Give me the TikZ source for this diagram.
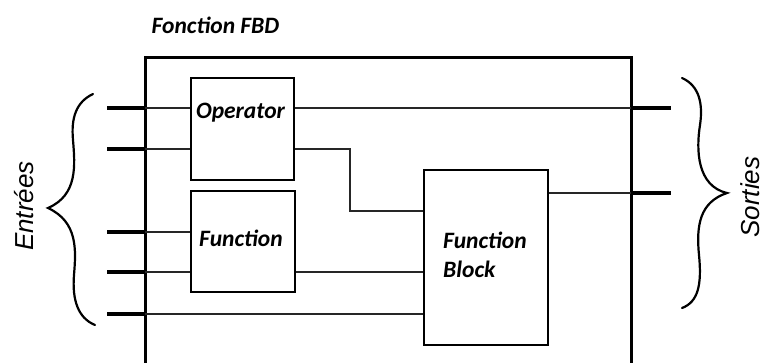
\documentclass[tikz,border=0pt]{standalone}
\usepackage{fontspec}
\newfontfamily\lblfont{Carlito}
\newfontfamily\sidefont{Liberation Sans}
\begin{document}
\begin{tikzpicture}[x=1pt,y=-1pt,
  boxstyle/.style={draw=black,line width=1.8pt,minimum width=#1,inner sep=0pt},
  lbl/.style={font=\lblfont\bfseries\itshape\fontsize{23.5}{26}\selectfont,inner sep=0pt},
  side/.style={font=\sidefont\itshape\fontsize{26}{30}\selectfont,inner sep=0pt,rotate=90},
  wire/.style={draw=black!85,line width=1.6pt},
  stub/.style={draw=black,line width=3.6pt},
  frame/.style={draw=black,line width=3pt},
  bracestyle/.style={draw=black,line width=2.2pt,line cap=round}]
\useasboundingbox (0,0) rectangle (765,363);
\clip (0,0) rectangle (765,363);

% title
\node[lbl] (title) at (215.5,25) {Fonction FBD};

% frame (open at the bottom)
\coordinate (fbl) at (145,370);
\coordinate (ftl) at (145,58);
\coordinate (ftr) at (631,58);
\coordinate (fbr) at (631,370);
\draw[frame] (fbl) -- (ftl) -- (ftr) -- (fbr);

% boxes
\node[boxstyle=103pt,minimum height=102pt] (op) at (242.5,129) {};
\node[boxstyle=104pt,minimum height=101pt] (fn) at (243,241.5) {};
\node[boxstyle=124pt,minimum height=175pt] (fb) at (486,257.5) {};

\node[lbl] (optext) at (240.5,113) {Operator};
\node[lbl] (fntext) at (241,238) {Function};
\node[lbl,align=left,anchor=north west,font=\lblfont\bfseries\itshape\fontsize{23.5}{29}\selectfont] (fbtext) at (443,232) {Function\\Block};

% inputs
\coordinate (i1) at (107,108);
\coordinate (i2) at (107,149);
\coordinate (i3) at (107,232);
\coordinate (i4) at (107,272);
\coordinate (i5) at (107,314);
\coordinate (o1) at (671,108);
\coordinate (o2) at (671,193);
\coordinate (bend1) at (350,149);
\coordinate (bend2) at (350,211);

% wires
\draw[wire] (i1) -- (i1 -| op.west);
\draw[wire] (i2) -- (i2 -| op.west);
\draw[wire] (i3) -- (i3 -| fn.west);
\draw[wire] (i4) -- (i4 -| fn.west);
\draw[wire] (i5) -- (i5 -| fb.west);
\draw[wire] (o1 -| op.east) -- (o1);
\draw[wire] (bend1 -| op.east) -- (bend1) -- (bend2) -- (bend2 -| fb.west);
\draw[wire] (i4 -| fn.east) -- (i4 -| fb.west);
\draw[wire] (o2 -| fb.east) -- (o2);

% thick stubs
\foreach \c in {i1,i2,i3,i4,i5}{
  \draw[stub] (\c) -- (\c -| ftl);
}
\draw[stub] (o1 -| ftr) -- (o1);
\draw[stub] (o2 -| ftr) -- (o2);

% braces
\draw[bracestyle] (93,94) .. controls (76,102) and (71,118) .. (73,140)
  .. controls (75,165) and (78,195) .. (48,208)
  .. controls (78,222) and (76,250) .. (74,275)
  .. controls (72,300) and (78,318) .. (95,325);
\draw[bracestyle] (682,78) .. controls (700,86) and (703,105) .. (700,125)
  .. controls (696,150) and (697,186) .. (727,193)
  .. controls (700,202) and (696,225) .. (699,255)
  .. controls (702,285) and (698,302) .. (682,308);

% side labels
\node[side] (entrees) at (24,206) {Entrées};
\node[side] (sorties) at (750,197) {Sorties};
\end{tikzpicture}
\end{document}
